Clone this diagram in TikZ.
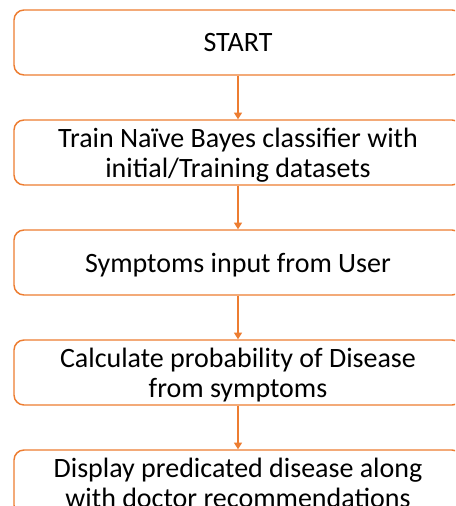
\documentclass[tikz,border=0pt]{standalone}
\usepackage{fontspec}
\setmainfont{Carlito}
\usetikzlibrary{arrows.meta}
\definecolor{boxorange}{HTML}{ED7D31}
\tikzset{
  stepbox/.style={draw=boxorange, line width=1.1pt, fill=white, rounded corners=7.5pt,
    minimum width=336pt, minimum height=48.75pt, align=center, inner sep=0pt,
    text depth=0pt,
    font=\fontsize{21pt}{22.5pt}\selectfont, text=black},
  flow/.style={draw=boxorange, line width=1.1pt, -{Triangle[width=6pt,length=5pt]}}
}
\begin{document}
\begin{tikzpicture}[x=0.75pt,y=-0.75pt]
\useasboundingbox (0,0) rectangle (455,506);
\clip (0,0) rectangle (455,506);
\node[stepbox] (s1) at (238,42.5) {START};
\node[stepbox] (s2) at (238,152.5) {Train Naïve Bayes classifier with\\initial/Training datasets};
\node[stepbox] (s3) at (238,262.5) {Symptoms input from User};
\node[stepbox] (s4) at (238,372.5) {Calculate probability of Disease\\from symptoms};
\node[stepbox] (s5) at (238,482.5) {Display predicated disease along\\with doctor recommendations};
\draw[flow] (s1) -- (s2);
\draw[flow] (s2) -- (s3);
\draw[flow] (s3) -- (s4);
\draw[flow] (s4) -- (s5);
\end{tikzpicture}
\end{document}
